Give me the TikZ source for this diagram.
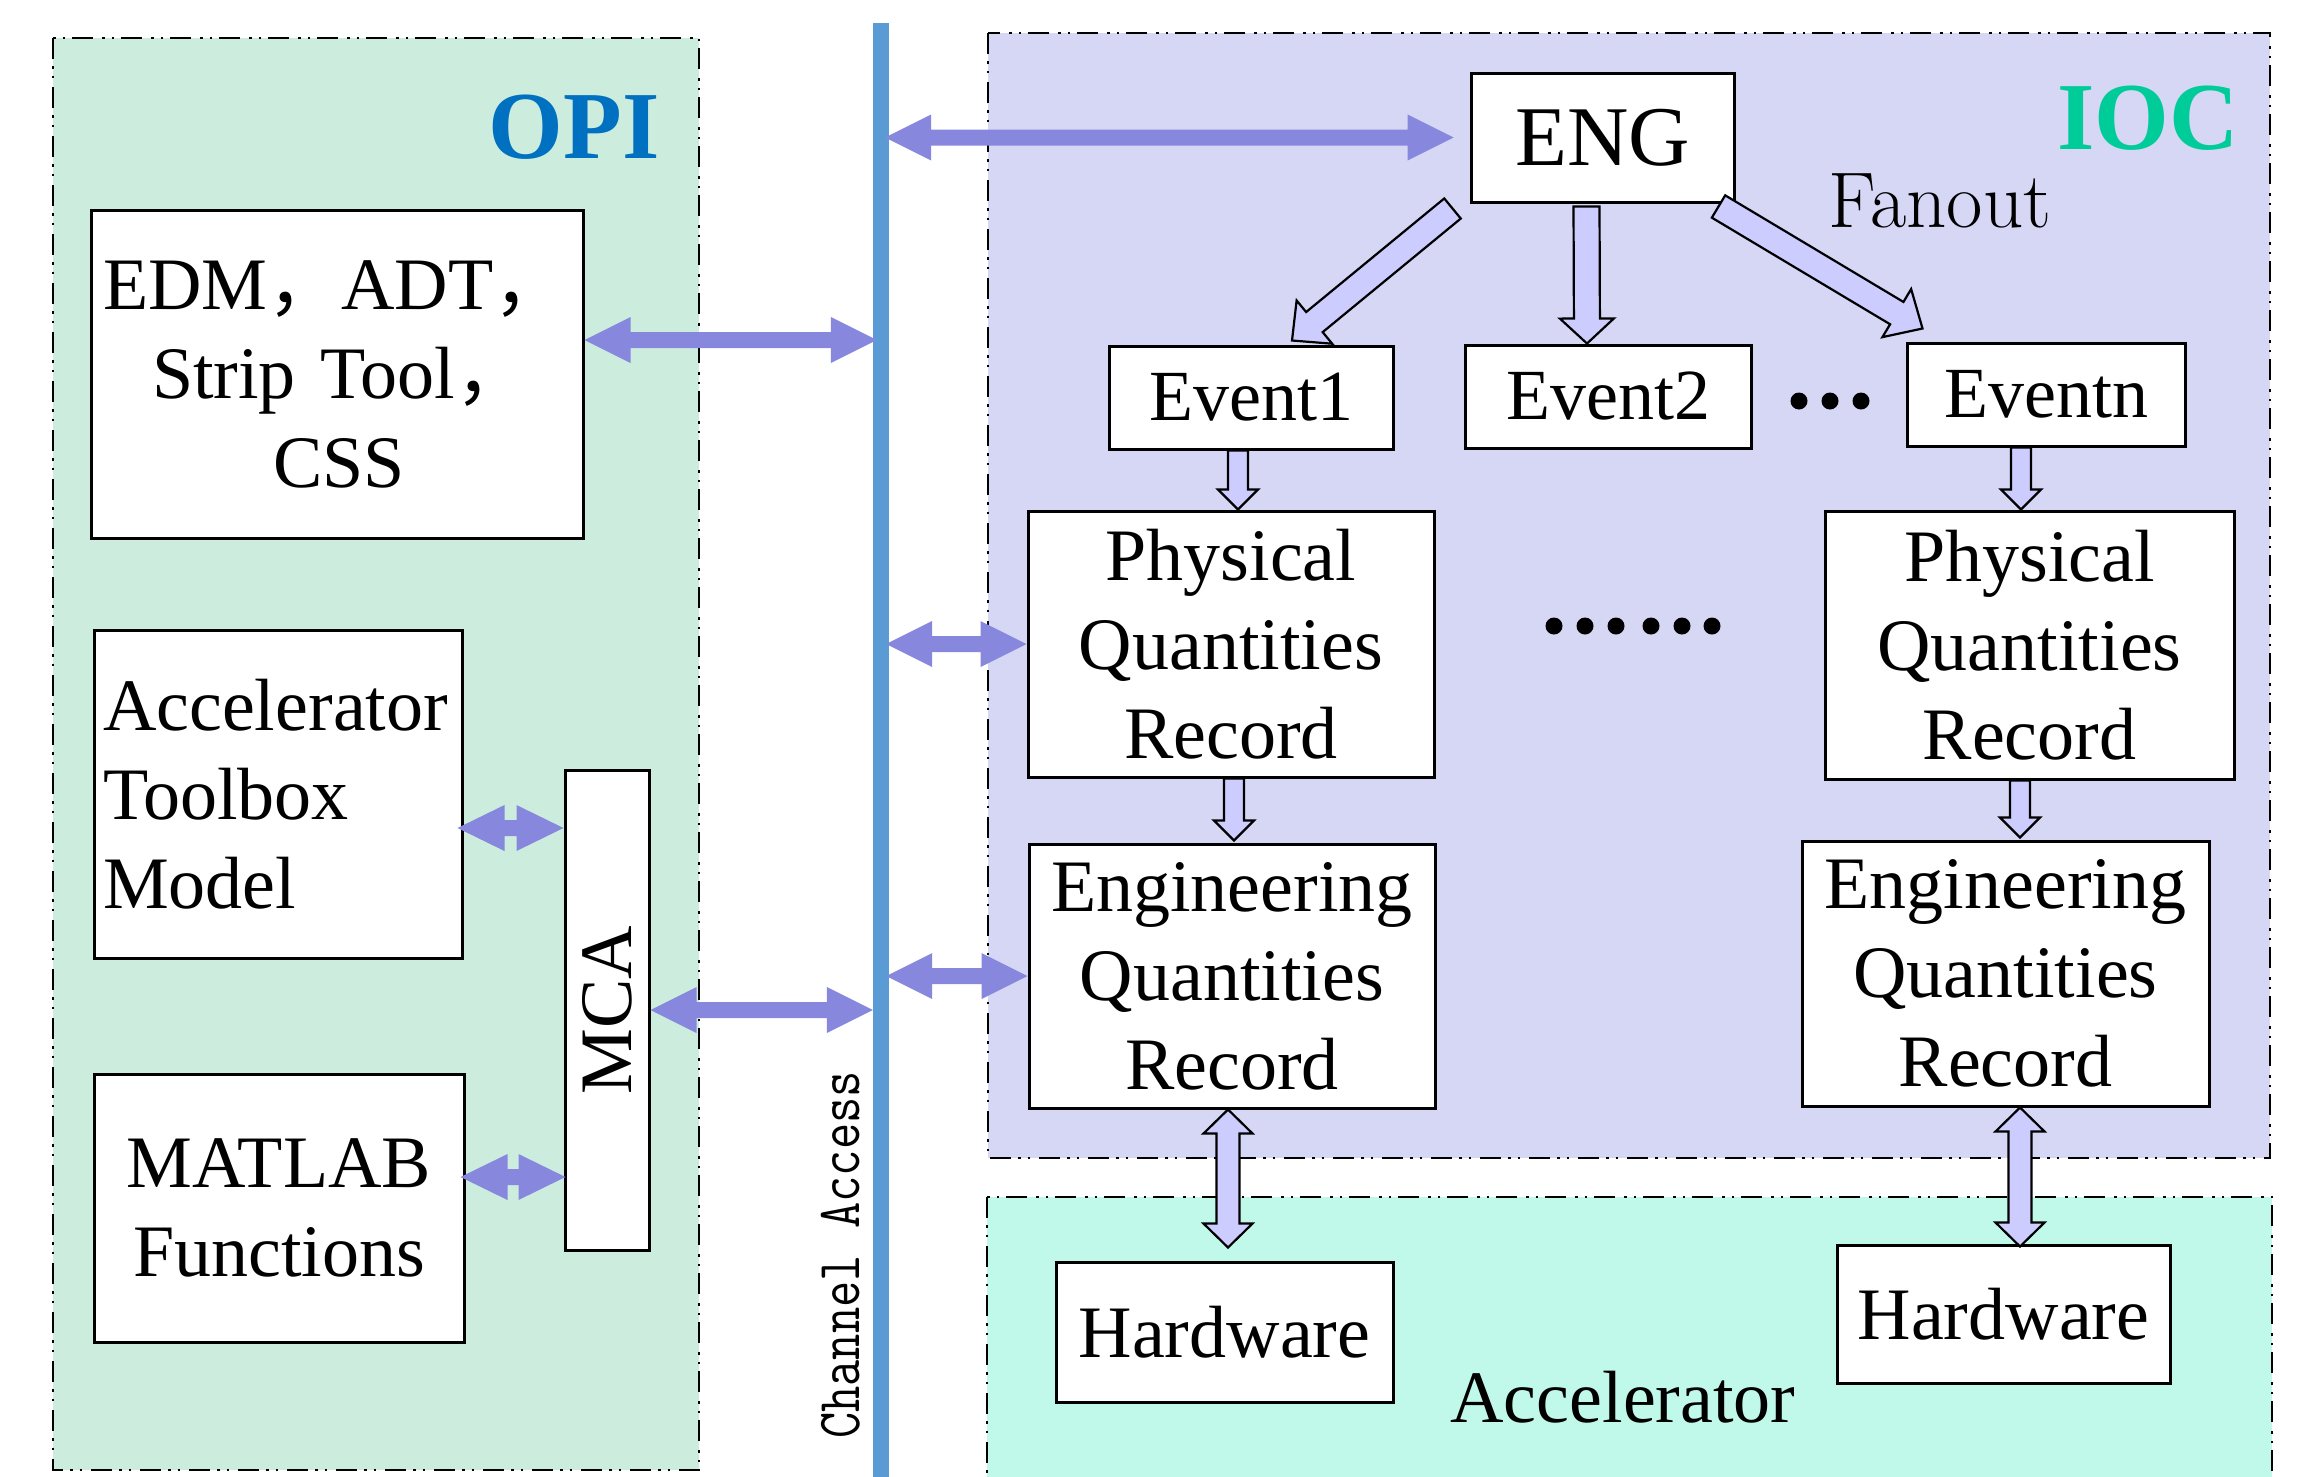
\documentclass[tikz,border=0pt]{standalone}
\usepackage{fontspec}
\usepackage{graphicx}
\usetikzlibrary{calc}
\newfontfamily\tnr{Liberation Serif}
\newfontfamily\cjk{Noto Sans CJK SC}
\definecolor{opifill}{RGB}{204,237,222}
\definecolor{iocfill}{RGB}{214,214,245}
\definecolor{accfill}{RGB}{192,249,234}
\definecolor{chanblue}{RGB}{91,155,213}
\definecolor{dblue}{RGB}{135,135,221}
\definecolor{blkfill}{RGB}{204,204,255}
\definecolor{opiblue}{RGB}{0,112,192}
\definecolor{iocgreen}{RGB}{0,204,153}
\newcommand\mfs{\tnr\fontsize{74}{89}\selectfont}
% single block arrow: style, from, to, half shaft, half head, head length
\newcommand{\onearrow}[6]{%
 \draw[#1] let \p1=(#2), \p2=(#3), \n1={atan2(\y2-\y1,\x2-\x1)} in
 ($(\p1)+({\n1+90}:#4pt)$) --
 ($(\p2)+({\n1+180}:#6pt)+({\n1+90}:#4pt)$) --
 ($(\p2)+({\n1+180}:#6pt)+({\n1+90}:#5pt)$) --
 (\p2) --
 ($(\p2)+({\n1+180}:#6pt)+({\n1-90}:#5pt)$) --
 ($(\p2)+({\n1+180}:#6pt)+({\n1-90}:#4pt)$) --
 ($(\p1)+({\n1-90}:#4pt)$) -- cycle;}
% double block arrow
\newcommand{\twoarrow}[6]{%
 \draw[#1] let \p1=(#2), \p2=(#3), \n1={atan2(\y2-\y1,\x2-\x1)} in
 (\p1) --
 ($(\p1)+(\n1:#6pt)+({\n1+90}:#5pt)$) --
 ($(\p1)+(\n1:#6pt)+({\n1+90}:#4pt)$) --
 ($(\p2)+({\n1+180}:#6pt)+({\n1+90}:#4pt)$) --
 ($(\p2)+({\n1+180}:#6pt)+({\n1+90}:#5pt)$) --
 (\p2) --
 ($(\p2)+({\n1+180}:#6pt)+({\n1-90}:#5pt)$) --
 ($(\p2)+({\n1+180}:#6pt)+({\n1-90}:#4pt)$) --
 ($(\p1)+(\n1:#6pt)+({\n1-90}:#4pt)$) --
 ($(\p1)+(\n1:#6pt)+({\n1-90}:#5pt)$) -- cycle;}
\tikzset{
 region/.style={draw=black, line width=2.6pt, dash pattern=on 21pt off 7pt on 2.5pt off 7pt on 2.5pt off 9pt},
 box/.style={draw=black, line width=3pt, fill=white, inner sep=0pt, font=\mfs},
 evbox/.style={box, font=\tnr\fontsize{72}{86}\selectfont},
 thick arrow/.style={fill=dblue, draw=none},
 blk/.style={draw=black, fill=blkfill, line width=2.2pt, line join=miter},
 lbl/.style={inner sep=0pt, anchor=base},
}
\begin{document}
\begin{tikzpicture}[x=1pt,y=-1pt]
\useasboundingbox (0,0) rectangle (2314,1476);
\clip (0,0) rectangle (2314,1476);
% regions
\draw[region, fill=opifill] (53,38) rectangle (699,1470);
\draw[region, fill=iocfill] (988,33) rectangle (2270,1158);
\draw[region, fill=accfill] (987,1197) rectangle (2272,1500);
% channel access line
\node[fill=chanblue, minimum width=16pt, minimum height=1480pt, inner sep=0pt] (chan) at (881,763) {};
\node[rotate=90, inner sep=0pt, font=\ttfamily\fontsize{51}{51}\selectfont] (catext) at (841,1255) {\scalebox{1}[1.2]{Channel Access}};
% labels
\node[lbl, text=opiblue, font=\tnr\bfseries\fontsize{96}{96}\selectfont] (opi) at (574,158) {OPI};
\node[lbl, text=iocgreen, font=\tnr\bfseries\fontsize{96}{96}\selectfont] (ioc) at (2148,149) {IOC};
\node[lbl, font=\rmfamily\fontsize{79}{79}\selectfont] (fanout) at (1940,227) {Fanout};
\node[lbl, font=\mfs] (acc) at (1623,1422) {Accelerator};
% OPI boxes
\node[box, minimum width=492pt, minimum height=328pt, text width=468pt, align=left] (EDM) at (337,374)
  {\mbox{EDM{\cjk ，}ADT{\cjk ，}}\\\hspace*{49pt}Strip Tool{\cjk ，}\\\hspace*{170pt}CSS};
\node[box, minimum width=368pt, minimum height=328pt, text width=350pt, align=left] (ATM) at (278,794)
  {Accelerator\\Toolbox\\Model};
\node[box, minimum width=370pt, minimum height=268pt, align=center] (MAT) at (279,1208)
  {MATLAB\\Functions};
\node[box, minimum width=84pt, minimum height=480pt] (MCA) at (607,1010) {\rotatebox{90}{MCA}};
% IOC boxes
\node[box, minimum width=263pt, minimum height=129pt, font=\tnr\fontsize{85}{85}\selectfont] (ENG) at (1602.5,137.5) {ENG};
\node[evbox, minimum width=284pt, minimum height=103pt] (EV1) at (1251,397.5) {Event1};
\node[evbox, minimum width=286pt, minimum height=103pt] (EV2) at (1608,396.5) {Event2};
\node[evbox, minimum width=278pt, minimum height=103pt] (EVN) at (2046,394.5) {Eventn};
\node[box, minimum width=406pt, minimum height=266pt, align=center] (PQ1) at (1231,644) {Physical\\Quantities\\Record};
\node[box, minimum width=409pt, minimum height=268pt, align=center] (PQN) at (2029.5,645) {Physical\\Quantities\\Record};
\node[box, minimum width=406pt, minimum height=264pt, align=center] (EQ1) at (1232,976) {Engineering\\Quantities\\Record};
\node[box, minimum width=407pt, minimum height=265pt, align=center] (EQN) at (2005.5,973.5) {Engineering\\Quantities\\Record};
\node[box, minimum width=337pt, minimum height=140pt] (HW1) at (1224.5,1332) {Hardware};
\node[box, minimum width=333pt, minimum height=138pt] (HW2) at (2003.5,1314) {Hardware};
% dots
\foreach \dx in {1799,1830,1861} \fill (\dx,401) circle[radius=8.5pt];
\foreach \dx in {1554,1585,1616,1651,1682,1712} \fill (\dx,626) circle[radius=8.5pt];
% filled double arrows
\twoarrow{thick arrow}{[yshift=34pt]EDM.east}{[yshift=34pt,xshift=4pt]EDM.east -| chan.west}{8}{23}{46}
\twoarrow{thick arrow}{[xshift=-6pt,yshift=-34pt]ATM.east}{[yshift=-34pt]ATM.east -| MCA.west}{8}{23}{47}
\twoarrow{thick arrow}{[xshift=-5pt,yshift=31pt]MAT.east}{[yshift=31pt,xshift=2pt]MAT.east -| MCA.west}{8}{23}{47}
\twoarrow{thick arrow}{MCA.east}{MCA.east -| chan.west}{8}{23}{46}
\twoarrow{thick arrow}{[xshift=-4pt]ENG.west -| chan.east}{[xshift=-16pt]ENG.west}{8}{23}{46}
\twoarrow{thick arrow}{[xshift=-3pt]PQ1.west -| chan.east}{PQ1.west}{8}{23}{46}
\twoarrow{thick arrow}{[xshift=-3pt]EQ1.west -| chan.east}{EQ1.west}{8}{23}{46}
% outlined block arrows
\onearrow{blk}{[xshift=-17pt,yshift=-5pt]ENG.south west}{[xshift=41pt,yshift=4pt]EV1.north}{13}{28}{29}
\onearrow{blk}{[xshift=-16pt,yshift=-3pt]ENG.south}{[xshift=-21pt]EV2.north}{13}{27}{25}
\onearrow{blk}{[xshift=-17pt,yshift=-3pt]ENG.south east}{[xshift=17pt,yshift=13pt]EVN.north west}{13}{28}{30}
\onearrow{blk}{[xshift=-13pt]EV1.south}{[xshift=7pt]PQ1.north}{10}{20}{20}
\onearrow{blk}{[xshift=-25pt]EVN.south}{[xshift=-8.5pt]PQN.north}{10}{20}{20}
\onearrow{blk}{[xshift=3pt]PQ1.south}{[xshift=2pt,yshift=2pt]EQ1.north}{10}{20}{20}
\onearrow{blk}{[xshift=-9.5pt]PQN.south}{[xshift=14.5pt,yshift=2pt]EQN.north}{10}{20}{20}
\twoarrow{blk}{[xshift=-4pt]EQ1.south}{[xshift=3.5pt,yshift=13pt]HW1.north}{11.5}{24.5}{24}
\twoarrow{blk}{[xshift=14.5pt]EQN.south}{[xshift=16.5pt,yshift=-3pt]HW2.north}{11.5}{24.5}{24}
\end{tikzpicture}
\end{document}
